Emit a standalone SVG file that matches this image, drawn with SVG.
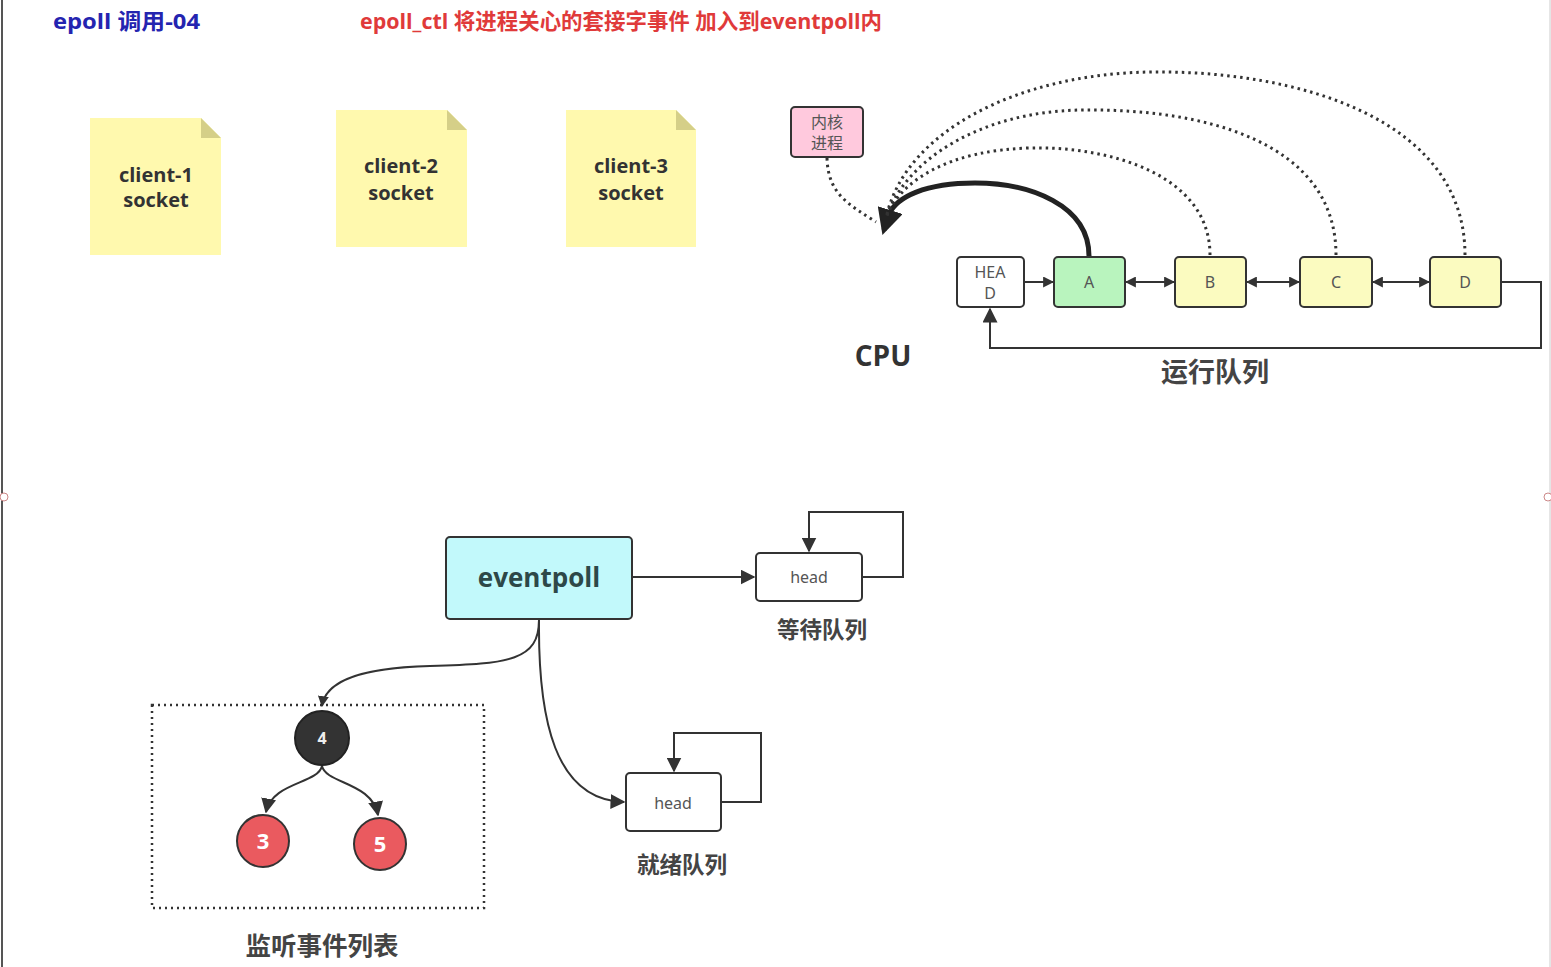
<svg xmlns="http://www.w3.org/2000/svg" width="1551" height="967" viewBox="0 0 1551 967">
<style>
text{font-family:"Open Sans","Noto Sans CJK SC",sans-serif;}
.title{font-size:22px;font-weight:bold;}
.note{fill:#fff9ae;}
.fold{fill:#d5cf88;}
.notet{font-size:20px;font-weight:bold;fill:#333;text-anchor:middle;}
.box{stroke:#333;stroke-width:2;}
.small{font-size:16px;fill:#555;text-anchor:middle;font-family:"Noto Sans","Noto Sans CJK SC",sans-serif;}
.lbl{font-size:22.5px;font-weight:bold;fill:#444;text-anchor:middle;font-family:"Noto Sans CJK SC",sans-serif;}
.ln{fill:none;stroke:#333;stroke-width:2;}
.dot{fill:none;stroke:#333;stroke-width:3;stroke-dasharray:2.5 4;}
</style>
<defs>
<marker id="ah" viewBox="0 0 10 10" refX="9" refY="5" markerWidth="11" markerHeight="11" markerUnits="userSpaceOnUse" orient="auto-start-reverse"><path d="M0,0 L10,5 L0,10 z" fill="#333"/></marker>
<marker id="ah2" viewBox="0 0 10 10" refX="9" refY="5" markerWidth="15" markerHeight="15" markerUnits="userSpaceOnUse" orient="auto"><path d="M0,0 L10,5 L0,10 z" fill="#333"/></marker>
<marker id="ahb" viewBox="0 0 10 10" refX="8" refY="5" markerWidth="26" markerHeight="26" markerUnits="userSpaceOnUse" orient="auto"><path d="M0,0 L10,5 L0,10 z" fill="#222"/></marker>
</defs>
<rect width="1551" height="967" fill="#fff"/>
<line x1="2" y1="0" x2="2" y2="967" stroke="#555" stroke-width="2"/>
<line x1="1550" y1="0" x2="1550" y2="967" stroke="#ccc" stroke-width="1"/>
<circle cx="4" cy="497" r="4" fill="#fff" stroke="#c88"/>
<circle cx="1548" cy="497" r="4" fill="#fff" stroke="#c88"/>

<text class="title" x="53" y="29" fill="#2424b0" textLength="147" lengthAdjust="spacingAndGlyphs">epoll 调用-04</text>
<text class="title" x="360" y="29" fill="#e03a3a" textLength="522" lengthAdjust="spacingAndGlyphs">epoll_ctl 将进程关心的套接字事件 加入到eventpoll内</text>

<g id="client1">
<path class="note" d="M90,118 H201 L221,138 V255 H90 Z"/>
<path class="fold" d="M201,118 L221,138 H201 Z"/>
<text class="notet" x="156" y="182">client-1</text>
<text class="notet" x="156" y="207">socket</text>
</g>
<g id="client2">
<path class="note" d="M336,110 H447 L467,130 V247 H336 Z"/>
<path class="fold" d="M447,110 L467,130 H447 Z"/>
<text class="notet" x="401" y="173">client-2</text>
<text class="notet" x="401" y="200">socket</text>
</g>
<g id="client3">
<path class="note" d="M566,110 H676 L696,130 V247 H566 Z"/>
<path class="fold" d="M676,110 L696,130 H676 Z"/>
<text class="notet" x="631" y="173">client-3</text>
<text class="notet" x="631" y="200">socket</text>
</g>

<g id="kernel">
<rect class="box" x="791" y="107" width="72" height="50" rx="4" fill="#ffc9dd"/>
<text class="small" x="827" y="128">内核</text>
<text class="small" x="827" y="149">进程</text>
</g>

<g id="head">
<rect class="box" x="957" y="257" width="67" height="50" rx="4" fill="#fff"/>
<text class="small" x="990" y="278">HEA</text>
<text class="small" x="990" y="299">D</text>
</g>
<g id="A">
<rect class="box" x="1054" y="257" width="71" height="50" rx="4" fill="#b9f4be"/>
<text class="small" x="1089" y="288">A</text>
</g>
<g id="B">
<rect class="box" x="1175" y="257" width="71" height="50" rx="4" fill="#fbfbc0"/>
<text class="small" x="1210" y="288">B</text>
</g>
<g id="C">
<rect class="box" x="1300" y="257" width="72" height="50" rx="4" fill="#fbfbc0"/>
<text class="small" x="1336" y="288">C</text>
</g>
<g id="D">
<rect class="box" x="1430" y="257" width="71" height="50" rx="4" fill="#fbfbc0"/>
<text class="small" x="1465" y="288">D</text>
</g>

<text x="883" y="366" font-size="28" font-weight="bold" fill="#333" text-anchor="middle">CPU</text>
<text class="lbl" x="1215" y="382" style="font-size:27px">运行队列</text>

<g id="eventpoll">
<rect class="box" x="446" y="537" width="186" height="82" rx="4" fill="#c2f9fb"/>
<text x="539" y="587" font-size="26" font-weight="bold" fill="#2d4848" text-anchor="middle">eventpoll</text>
</g>
<g id="waitq">
<rect class="box" x="756" y="553" width="106" height="48" rx="4" fill="#fff"/>
<text class="small" x="809" y="583">head</text>
<text class="lbl" x="822" y="638">等待队列</text>
</g>
<g id="readyq">
<rect class="box" x="626" y="773" width="95" height="58" rx="4" fill="#fff"/>
<text class="small" x="673" y="809">head</text>
<text class="lbl" x="682" y="873">就绪队列</text>
</g>

<g id="tree">
<rect x="152" y="705" width="332" height="203" fill="none" stroke="#333" stroke-width="2.5" stroke-dasharray="2 4"/>
<g id="n4">
<circle cx="322" cy="738" r="27" fill="#333" stroke="#222" stroke-width="2"/>
<text x="322" y="744" font-size="16" font-weight="bold" fill="#eee" text-anchor="middle">4</text>
</g>
<g id="n3">
<circle cx="263" cy="841" r="26" fill="#ea5a5f" stroke="#333" stroke-width="2"/>
<text x="263" y="849" font-size="22" font-weight="bold" fill="#fff" text-anchor="middle">3</text>
</g>
<g id="n5">
<circle cx="380" cy="844" r="26" fill="#ea5a5f" stroke="#333" stroke-width="2"/>
<text x="380" y="852" font-size="22" font-weight="bold" fill="#fff" text-anchor="middle">5</text>
</g>
<text class="lbl" x="322" y="955" style="font-size:25.5px">监听事件列表</text>
</g>

<g id="connectors">
<path class="ln" d="M1024,282 H1053" marker-end="url(#ah)"/>
<path class="ln" d="M1126,282 H1174" marker-start="url(#ah)" marker-end="url(#ah)"/>
<path class="ln" d="M1247,282 H1299" marker-start="url(#ah)" marker-end="url(#ah)"/>
<path class="ln" d="M1373,282 H1429" marker-start="url(#ah)" marker-end="url(#ah)"/>
<path class="ln" d="M1501,282 H1541 V348 H990 V309" marker-end="url(#ah2)"/>

<path d="M1089,256 C1089,205 1030,183 975,183 C925,183 897,197 889,214 L884,230" fill="none" stroke="#222" stroke-width="5" marker-end="url(#ahb)"/>
<path class="dot" d="M1210,255 C1210,175 1110,146 1030,148 C950,150 900,180 886,218"/>
<path class="dot" d="M1336,255 C1336,140 1200,108 1080,110 C980,112 905,160 886,218"/>
<path class="dot" d="M1465,255 C1465,120 1300,70 1150,72 C1020,74 905,130 886,218"/>
<path class="dot" d="M827,158 C828,195 850,205 876,222"/>

<path class="ln" d="M632,577 H754" marker-end="url(#ah2)"/>
<path class="ln" d="M862,577 H903 V512 H809 V551" marker-end="url(#ah2)"/>
<path class="ln" d="M721,802 H761 V733 H674 V771" marker-end="url(#ah2)"/>
<path class="ln" d="M539,620 C538,720 555,800 624,802" marker-end="url(#ah2)"/>
<path class="ln" d="M539,620 C539,660 510,664 430,666 C350,668 325,685 322,706" marker-end="url(#ah)"/>
<path class="ln" d="M322,766 C318,784 272,782 266,812" marker-end="url(#ah2)"/>
<path class="ln" d="M322,766 C326,784 372,782 378,815" marker-end="url(#ah2)"/>
</g>
</svg>
